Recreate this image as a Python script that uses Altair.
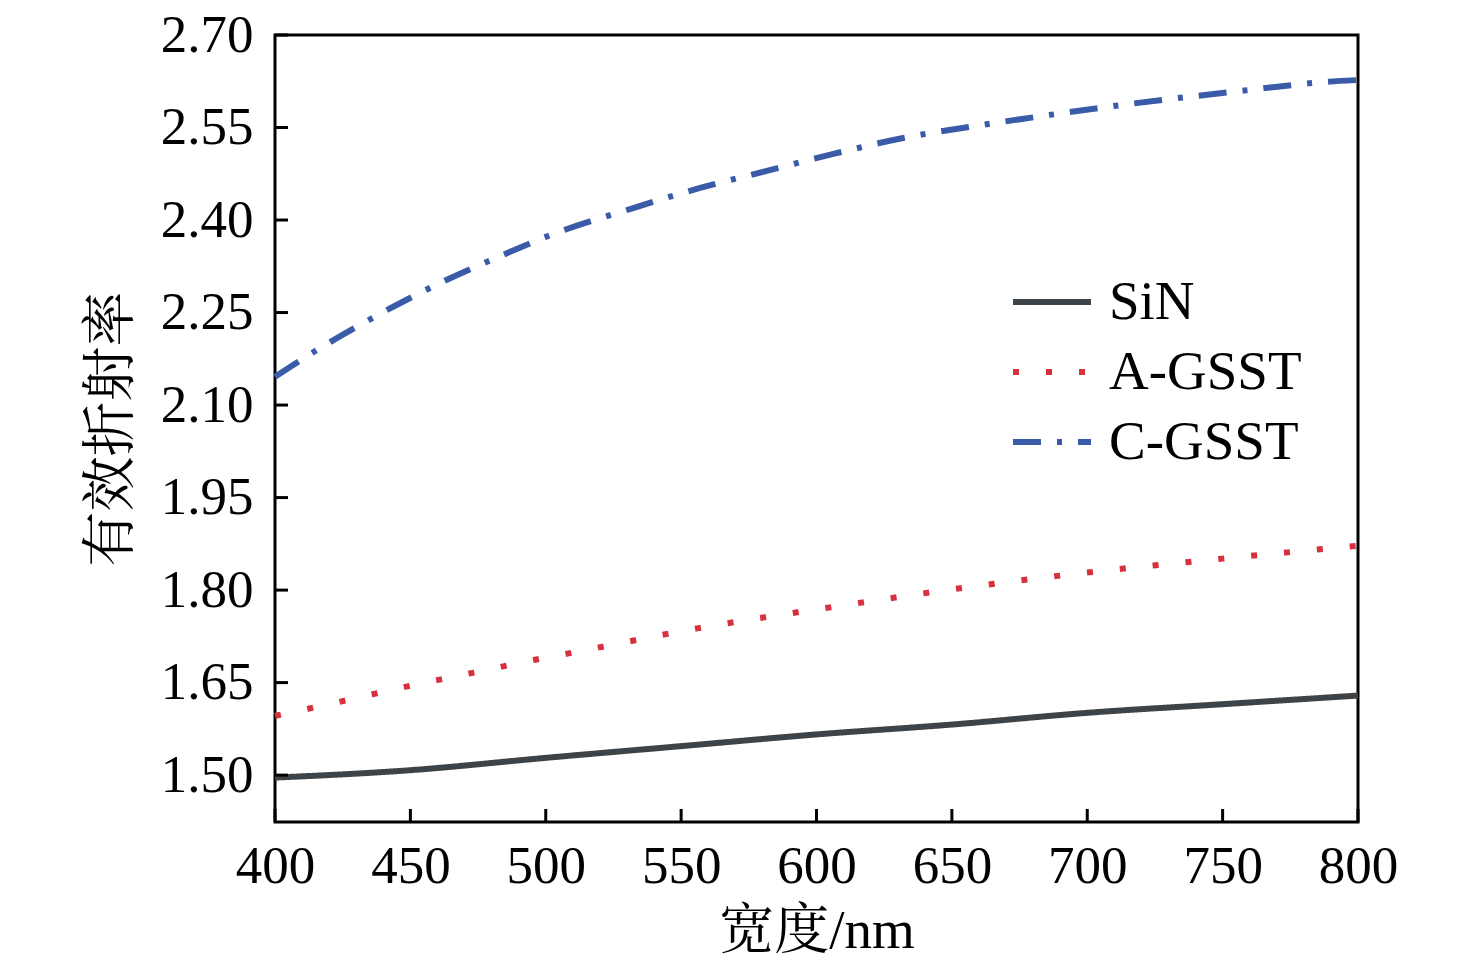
import altair as alt
import pandas as pd

# --- data ---
series_names = ["SiN", "A-GSST", "C-GSST"]
series_colors = ["#3d4346", "#d7303f", "#3a5ca8"]

sin_x = [400, 450, 500, 550, 600, 650, 700, 750, 800]
sin_y = [1.496, 1.508, 1.528, 1.547, 1.566, 1.582, 1.601, 1.615, 1.629]

agsst_x = [400, 423, 448, 472, 496, 508, 556, 605, 653, 701, 750, 800]
agsst_y = [1.596, 1.618, 1.643, 1.665, 1.687, 1.697, 1.738, 1.772, 1.803, 1.829, 1.851, 1.872]

cgsst_x = [400, 415, 438, 461, 484, 502, 532, 557, 582, 607, 632, 658, 684, 710, 736, 762, 788, 800]
cgsst_y = [2.146, 2.188, 2.246, 2.298, 2.343, 2.376, 2.419, 2.452, 2.480, 2.508, 2.533, 2.552,
           2.569, 2.585, 2.599, 2.612, 2.624, 2.627]

x_ticks = [400, 450, 500, 550, 600, 650, 700, 750, 800]
y_ticks = [1.50, 1.65, 1.80, 1.95, 2.10, 2.25, 2.40, 2.55, 2.70]

x_title = "宽度/nm"
y_title = "有效折射率"

rows = []
for name, xs, ys in [("SiN", sin_x, sin_y), ("A-GSST", agsst_x, agsst_y), ("C-GSST", cgsst_x, cgsst_y)]:
    for i, (a, b) in enumerate(zip(xs, ys)):
        rows.append({"width": a, "neff": b, "series": name, "order": i})
df = pd.DataFrame(rows)

xscale = alt.Scale(domain=[400, 800], nice=False, zero=False)
yscale = alt.Scale(domain=[1.424, 2.70], nice=False, zero=False)

serif = "Liberation Serif, Noto Serif CJK SC, Noto Sans CJK SC"

legend_kw = dict(title=None, orient="none", legendX=735, legendY=225,
                 symbolType="stroke", symbolSize=6084, symbolStrokeWidth=6,
                 labelFont=serif, labelFontSize=55, labelColor="black", labelLimit=500,
                 labelOffset=15, rowPadding=-5)

lines = alt.Chart(df).mark_line(strokeWidth=6, interpolate="monotone").encode(
    x=alt.X("width:Q", scale=xscale, title=x_title,
            axis=alt.Axis(values=x_ticks, format="d", labelPadding=18, titlePadding=11,
                          labelFlush=False)),
    y=alt.Y("neff:Q", scale=yscale, title=y_title,
            axis=alt.Axis(values=y_ticks, format=".2f", labelPadding=22, titlePadding=21,
                          labelFlush=False)),
    color=alt.Color("series:N",
                    scale=alt.Scale(domain=series_names, range=series_colors),
                    legend=alt.Legend(**legend_kw)),
    strokeDash=alt.StrokeDash("series:N",
                              scale=alt.Scale(domain=series_names,
                                              range=[[1, 0], [6, 27], [28, 16, 5, 16]]),
                              legend=alt.Legend(**legend_kw)),
    order="order:Q",
)

xt = pd.DataFrame({"width": x_ticks})
yt = pd.DataFrame({"neff": y_ticks})

xtick_layer = alt.Chart(xt).mark_rule(color="black", strokeWidth=3).encode(
    x=alt.X("width:Q", scale=xscale),
    y=alt.value(787), y2=alt.value(774),
)
ytick_layer = alt.Chart(yt).mark_rule(color="black", strokeWidth=3).encode(
    y=alt.Y("neff:Q", scale=yscale),
    x=alt.value(0), x2=alt.value(13),
)

chart = alt.layer(lines, xtick_layer, ytick_layer).properties(
    width=1083, height=787, autosize="none", background="white",
    padding={"left": 267, "top": 27, "right": 110, "bottom": 142},
).configure_view(stroke="black", strokeWidth=3).configure_axis(
    domain=False, ticks=False, grid=False,
    labelFont=serif, labelFontSize=53, labelColor="black",
    titleFont=serif, titleFontSize=55, titleColor="black", titleFontWeight="normal",
)

chart.save("out.html", embed_options={"renderer": "svg", "actions": False})
